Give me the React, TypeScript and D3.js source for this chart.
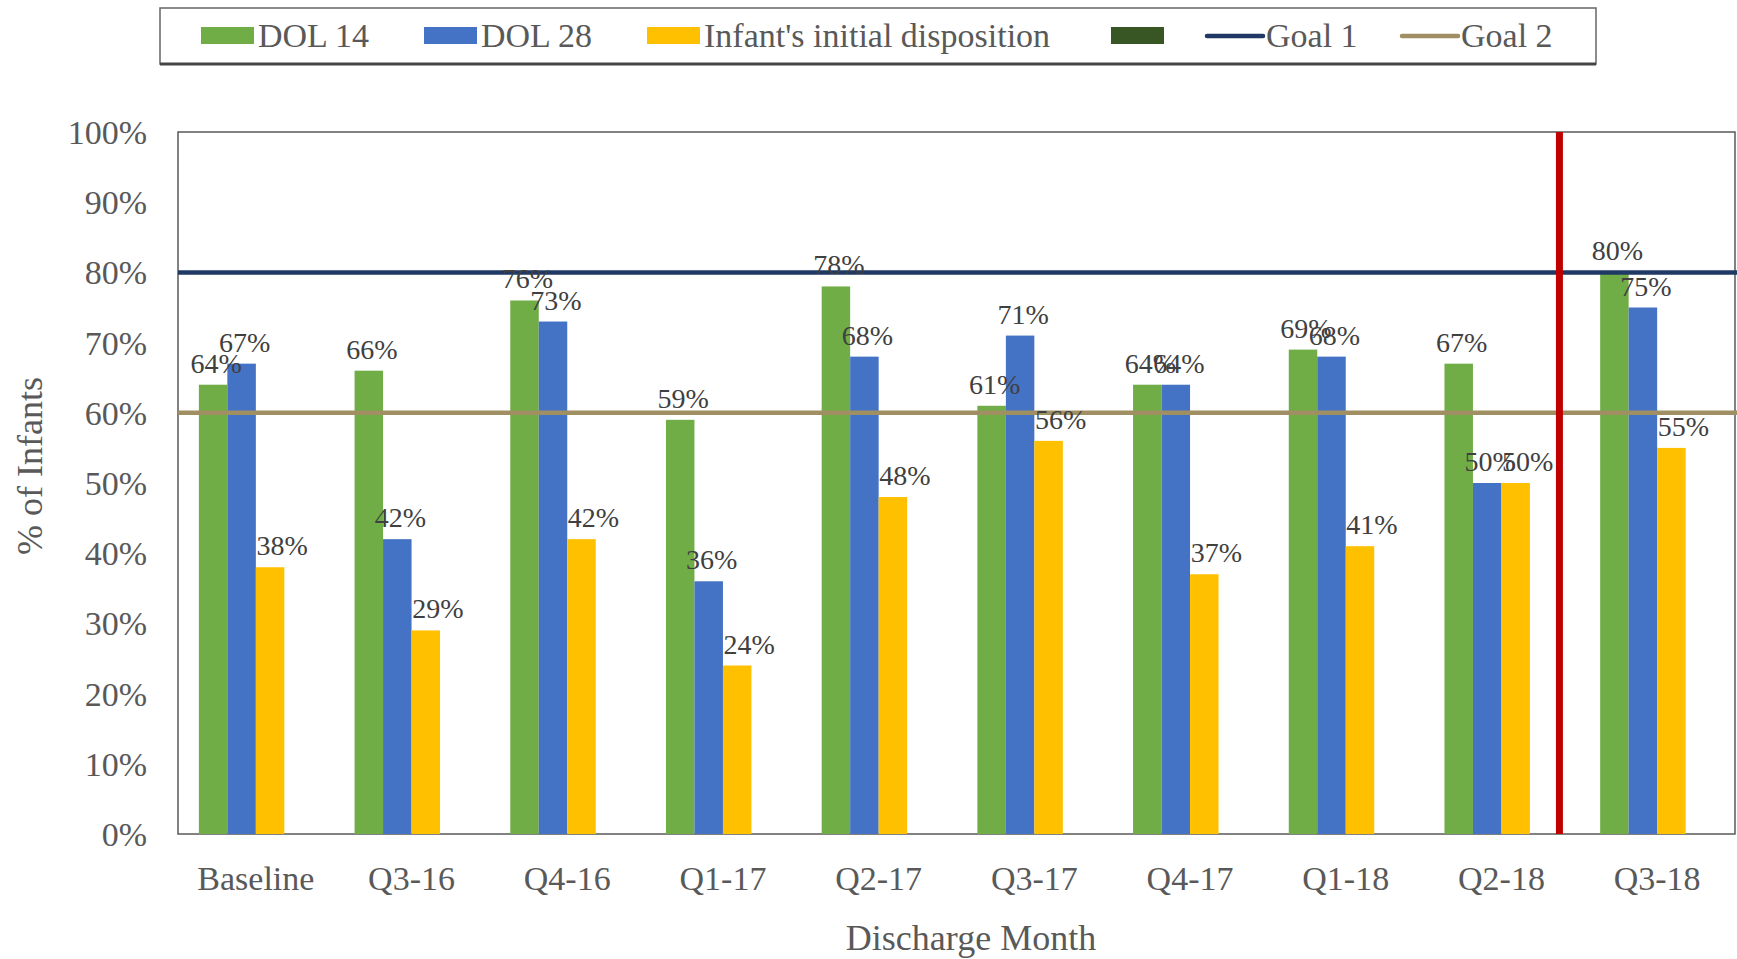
import React from "react";
import * as d3 from "d3";

// chart data
const categories = ["Baseline", "Q3-16", "Q4-16", "Q1-17", "Q2-17", "Q3-17", "Q4-17", "Q1-18", "Q2-18", "Q3-18"];
const dol14 = [64, 66, 76, 59, 78, 61, 64, 69, 67, 80];
const dol28 = [67, 42, 73, 36, 68, 71, 64, 68, 50, 75];
const initialDisposition = [38, 29, 42, 24, 48, 56, 37, 41, 50, 55];
const emptySeries: number[] = []; // 4th legend entry has no bars
const goal1 = 80;
const goal2 = 60;
const phaseChangeAfter = "Q2-18";
const yTicks = [0, 10, 20, 30, 40, 50, 60, 70, 80, 90, 100];

const W = 1737,
  H = 959;
const FONT = "'Liberation Serif', 'Times New Roman', serif";

const series = [
  { name: "DOL 14", values: dol14, color: "#70AD47", dx: 3 },
  { name: "DOL 28", values: dol28, color: "#4472C4", dx: 3 },
  { name: "Infant's initial disposition", values: initialDisposition, color: "#FFC000", dx: 12 },
  { name: "", values: emptySeries, color: "#375623", dx: 0 }
];

export default function App() {
  const left = 178,
    right = 1735,
    top = 132,
    bottom = 834;

  const x0 = d3
    .scaleBand<string>()
    .domain(categories)
    .range([left, right])
    .paddingInner(0.268)
    .paddingOuter(0.134);
  const x1 = d3
    .scaleBand<number>()
    .domain(d3.range(series.length))
    .range([0, x0.bandwidth()]);
  const y = d3.scaleLinear().domain([0, 100]).range([bottom, top]);

  const redX = (x0(phaseChangeAfter) as number) + x0.bandwidth() + 1;

  // legend layout
  const legendY = 36;
  const legendItems = [
    { kind: "rect", color: series[0].color, label: series[0].name, x: 201 },
    { kind: "rect", color: series[1].color, label: series[1].name, x: 424 },
    { kind: "rect", color: series[2].color, label: series[2].name, x: 647 },
    { kind: "rect", color: series[3].color, label: series[3].name, x: 1111 },
    { kind: "line", color: "#1F3864", label: "Goal 1", x: 1207 },
    { kind: "line", color: "#A08F62", label: "Goal 2", x: 1402 }
  ];

  return (
    <svg
      width={W}
      height={H}
      style={{ position: "absolute", left: 0, top: 0, background: "#fff" }}
      fontFamily={FONT}
    >
      {/* legend */}
      <g>
        <rect x={160} y={8} width={1436} height={56} fill="#fff" stroke="#666" strokeWidth={1.5} />
        <line x1={160} x2={1596} y1={64} y2={64} stroke="#444" strokeWidth={3} />
        {legendItems.map((d, i) => (
          <g key={i}>
            {d.kind === "rect" ? (
              <rect x={d.x} y={legendY - 9} width={53} height={17} fill={d.color} />
            ) : (
              <line
                x1={d.x}
                x2={d.x + 56}
                y1={legendY}
                y2={legendY}
                stroke={d.color}
                strokeWidth={4.5}
                strokeLinecap="round"
              />
            )}
            <text
              x={d.x + (d.kind === "rect" ? 57 : 59)}
              y={legendY + 11}
              fontSize={34}
              fill="#595959"
            >
              {d.label}
            </text>
          </g>
        ))}
      </g>

      {/* plot frame */}
      <rect x={left} y={top} width={right - left} height={bottom - top} fill="#fff" stroke="#595959" strokeWidth={1.5} />

      {/* y ticks */}
      {yTicks.map((t) => (
        <text key={t} x={147} y={y(t)} dy="0.35em" textAnchor="end" fontSize={34} fill="#595959">
          {t + "%"}
        </text>
      ))}

      {/* bars */}
      {categories.map((c, ci) => (
        <g key={c} transform={`translate(${x0(c)},0)`}>
          {series.map((s, si) =>
            s.values[ci] == null ? null : (
              <rect
                key={si}
                x={x1(si)}
                y={y(s.values[ci])}
                width={x1.bandwidth()}
                height={y(0) - y(s.values[ci])}
                fill={s.color}
              />
            )
          )}
        </g>
      ))}

      {/* goal lines */}
      <line x1={left} x2={right + 2} y1={y(goal1)} y2={y(goal1)} stroke="#1F3864" strokeWidth={4.5} />
      <line x1={left} x2={right + 2} y1={y(goal2)} y2={y(goal2)} stroke="#A08F62" strokeWidth={4.5} />

      {/* phase change marker */}
      <line x1={redX} x2={redX} y1={top} y2={bottom} stroke="#C00000" strokeWidth={7} />

      {/* data labels */}
      {categories.map((c, ci) =>
        series.map((s, si) =>
          s.values[ci] == null ? null : (
            <text
              key={c + si}
              x={(x0(c) as number) + (x1(si) as number) + x1.bandwidth() / 2 + s.dx}
              y={y(s.values[ci]) - 12}
              textAnchor="middle"
              fontSize={28}
              fill="#404040"
            >
              {s.values[ci] + "%"}
            </text>
          )
        )
      )}

      {/* x labels */}
      {categories.map((c) => (
        <text
          key={c}
          x={(x0(c) as number) + x0.bandwidth() / 2}
          y={890}
          textAnchor="middle"
          fontSize={34}
          fill="#595959"
        >
          {c}
        </text>
      ))}

      {/* axis titles */}
      <text
        transform={`translate(42,466) rotate(-90)`}
        textAnchor="middle"
        fontSize={36}
        fill="#595959"
      >
        % of Infants
      </text>
      <text x={971} y={950} textAnchor="middle" fontSize={36} fill="#595959">
        Discharge Month
      </text>
    </svg>
  );
}
